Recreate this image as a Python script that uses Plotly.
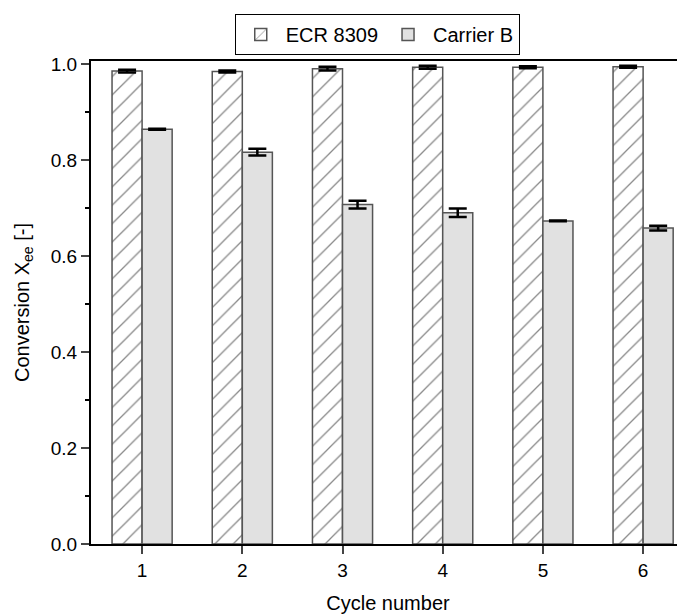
import plotly.graph_objects as go

cycles = [1, 2, 3, 4, 5, 6]
ecr_vals = [0.985, 0.984, 0.990, 0.993, 0.993, 0.994]
ecr_err = [0.003, 0.002, 0.004, 0.003, 0.002, 0.002]
carrier_vals = [0.864, 0.816, 0.707, 0.690, 0.673, 0.658]
carrier_err = [0.001, 0.007, 0.008, 0.009, 0.001, 0.005]

font = "Liberation Sans, Arial, sans-serif"

err_style = dict(type="data", visible=True, color="black", thickness=2.5, width=9)

trace1 = go.Bar(
    x=cycles, y=ecr_vals, name="ECR 8309",
    error_y=dict(array=ecr_err, **err_style),
    marker=dict(color="white",
                line=dict(color="#555555", width=1.5),
                pattern=dict(shape="/", size=13, solidity=0.1,
                             fgcolor="#111111", bgcolor="white", fillmode="overlay")),
)
trace2 = go.Bar(
    x=cycles, y=carrier_vals, name="Carrier B",
    error_y=dict(array=carrier_err, **err_style),
    marker=dict(color="#e1e1e1", line=dict(color="#555555", width=1.5)),
)

# page body adds 8px margin, so figure is 677x608 and offsets shifted by 8
layout = go.Layout(
    width=677, height=608,
    margin=dict(l=83, r=0, t=53, b=72),
    paper_bgcolor="white", plot_bgcolor="white",
    font=dict(family=font, size=19, color="black"),
    barmode="group", bargap=0.4, bargroupgap=0,
    showlegend=True,
    legend=dict(orientation="h", x=0.242, y=0.99, xanchor="left", yanchor="top",
                yref="container",
                bordercolor="black", borderwidth=1, bgcolor="white",
                font=dict(size=20), itemwidth=40),
    xaxis=dict(range=[0.49, 6.418], tickvals=cycles, ticks="outside", ticklen=8,
               tickwidth=2, showline=True, linewidth=2, linecolor="black",
               mirror=True, showgrid=False, zeroline=False, automargin=False,
               title=dict(text="Cycle number", font=dict(size=20), standoff=16)),
    yaxis=dict(range=[0, 1.006], dtick=0.2, tickformat=".1f", ticks="outside",
               ticklen=8, tickwidth=2, showline=True, linewidth=2, linecolor="black",
               showgrid=False, zeroline=False, automargin=False,
               minor=dict(dtick=0.1, ticks="outside", ticklen=4, tickwidth=2,
                          tickcolor="black"),
               title=dict(text="Conversion X<sub>ee</sub> [-]", font=dict(size=20),
                          standoff=16)),
)

fig = go.Figure([trace1, trace2], layout)
fig.write_html("out.html")
